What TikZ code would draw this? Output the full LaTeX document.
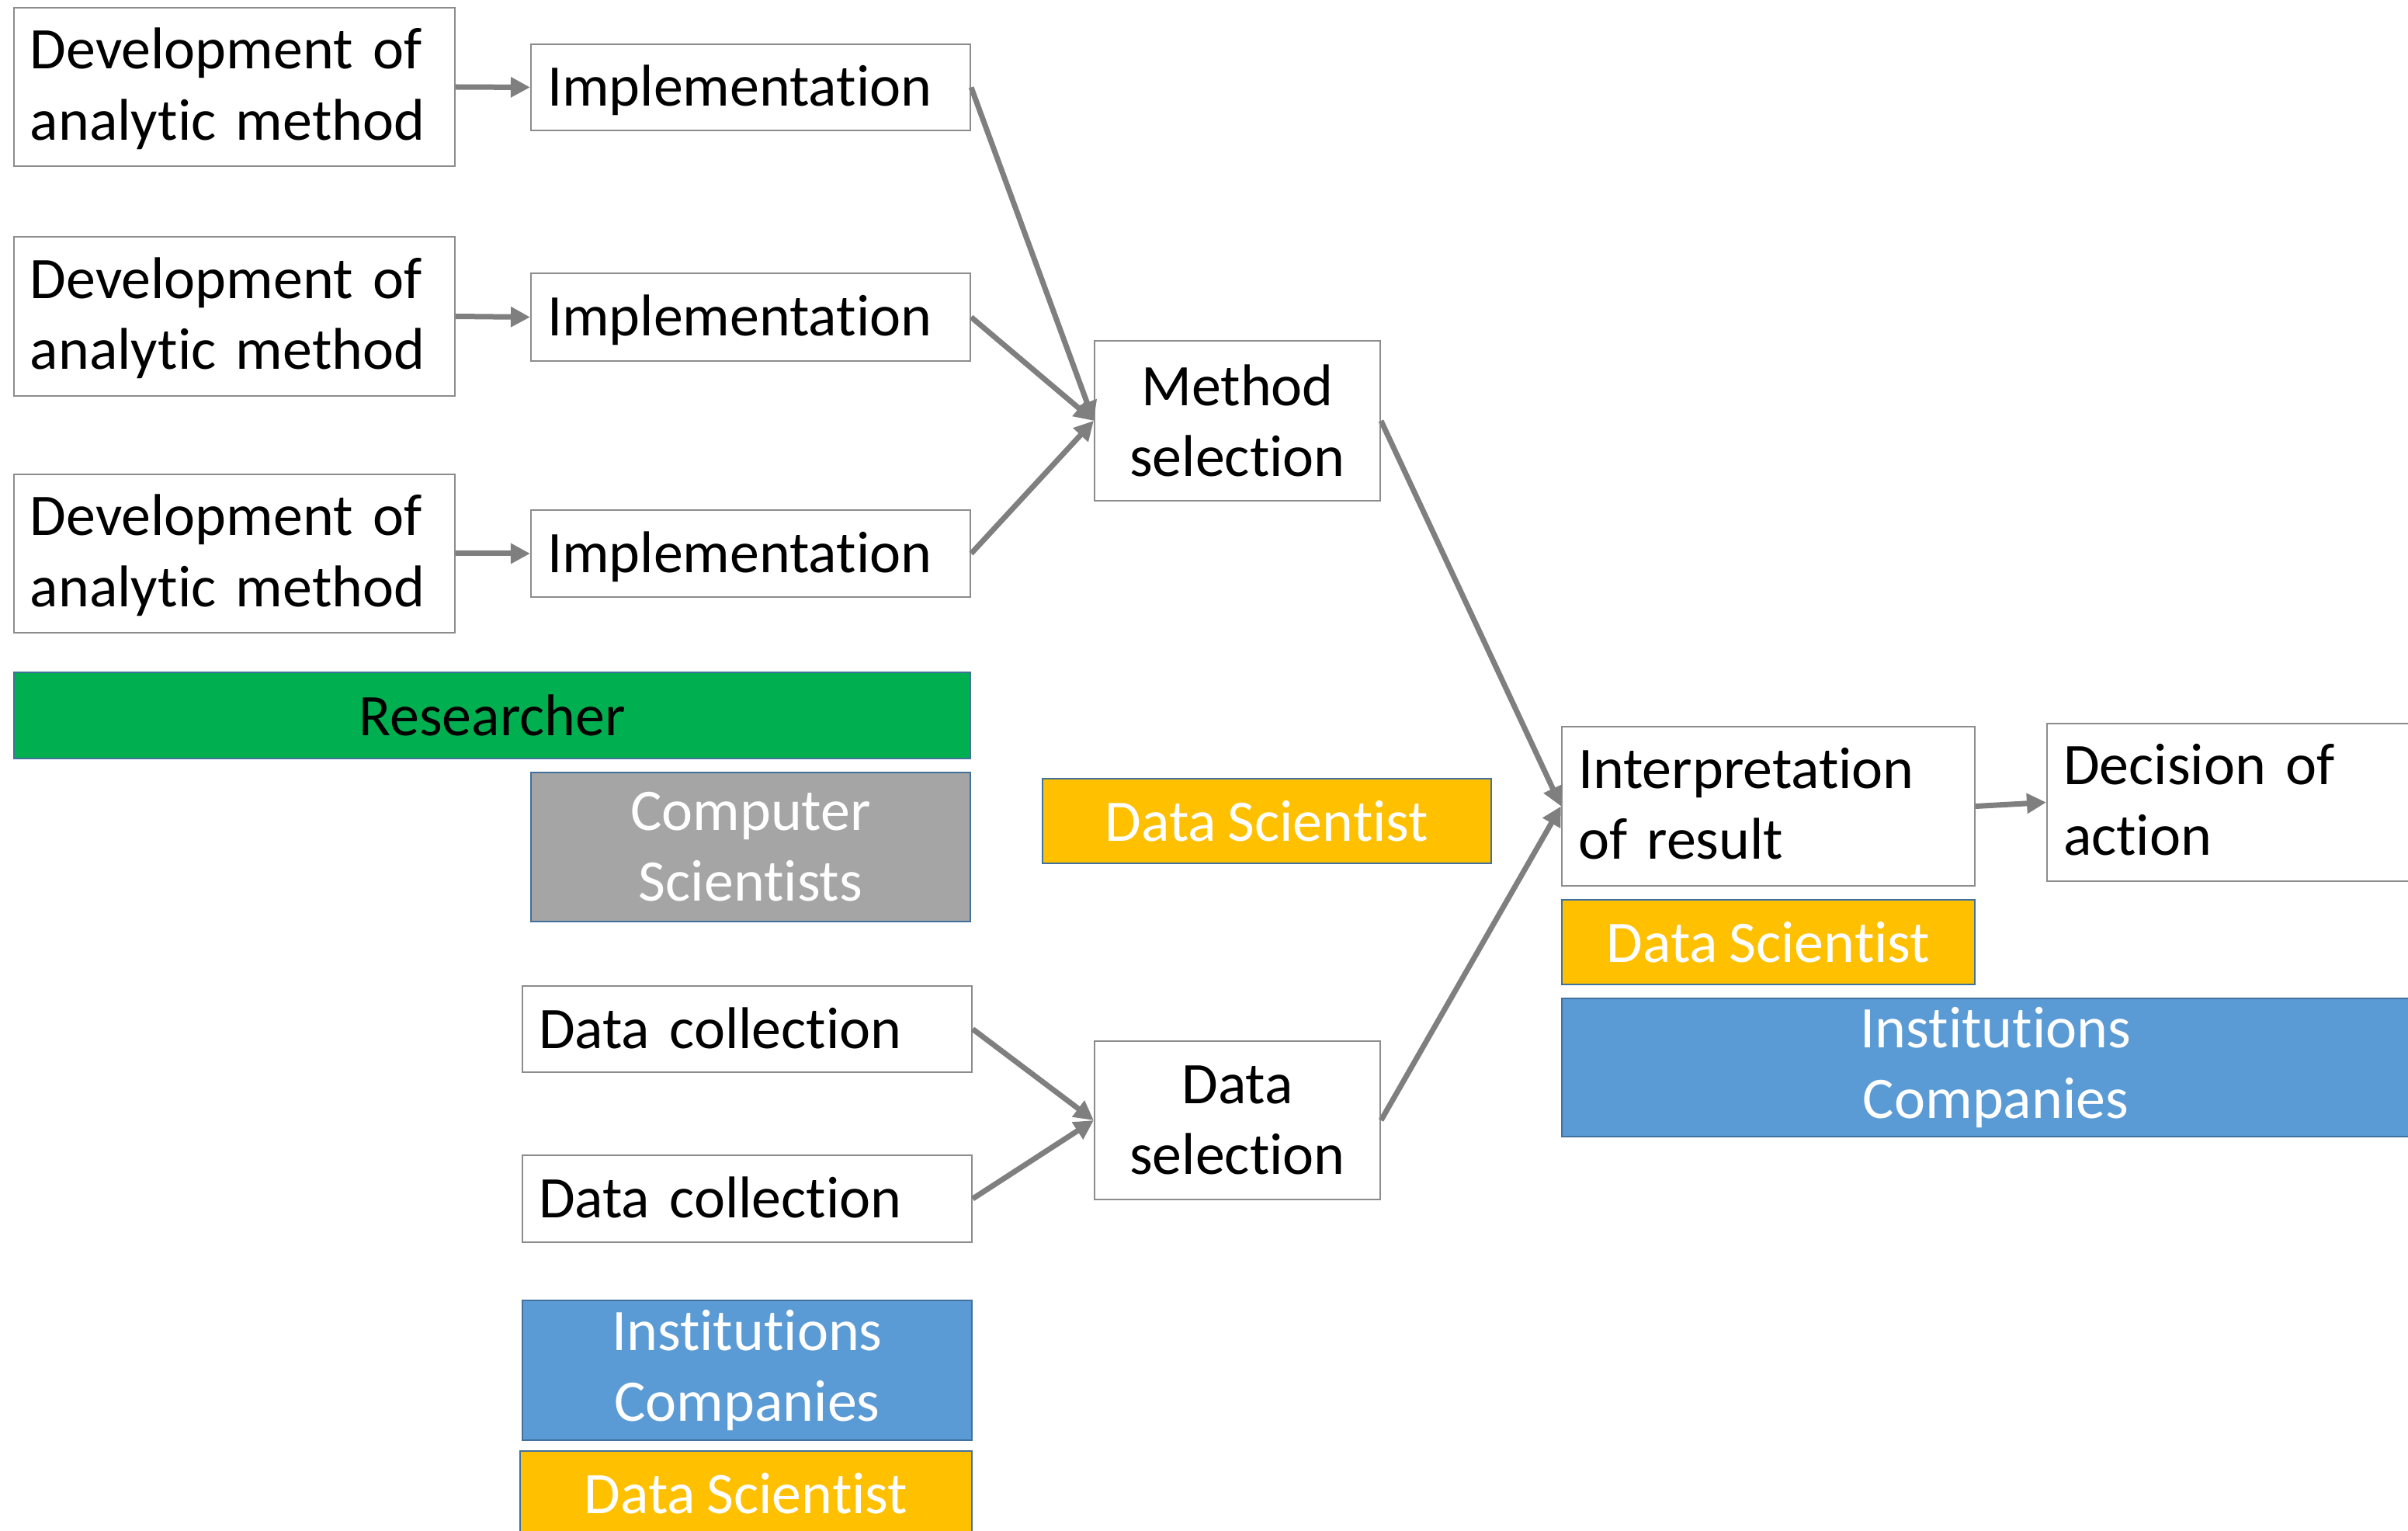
\documentclass[tikz,border=0pt]{standalone}
\usepackage{fontspec}
\setmainfont{Carlito}[Ligatures={NoCommon,NoContextual}, Contextuals=NoAlternate, WordSpace=0.85]
\usepackage{xcolor}
\usetikzlibrary{arrows.meta}
\definecolor{boxgray}{HTML}{8C8C8C}
\definecolor{arrowgray}{HTML}{7F7F7F}
\definecolor{roleline}{HTML}{41719C}
\definecolor{rgreen}{HTML}{00B050}
\definecolor{rgrey}{HTML}{A5A5A5}
\definecolor{rgold}{HTML}{FFC000}
\definecolor{rblue}{HTML}{5B9BD5}
\newcommand{\boxfont}{\fontsize{21.6}{25.9}\selectfont}

\begin{document}
\begin{tikzpicture}[
		taskbox/.style={draw=boxgray, line width=0.6pt, fill=white, inner xsep=0.21cm, inner ysep=0pt, font=\boxfont},
		oneline/.style={taskbox, align=left, text height=0.64cm, text depth=0.15cm},
		twoline/.style={taskbox, align=left, text height=0.6cm, text depth=1.06cm},
		rolebox/.style={draw=roleline, line width=0.8pt, inner sep=0pt, text=white, align=center, font=\boxfont},
		flow/.style={-{Triangle[length=2.5mm, width=2.5mm]}, draw=arrowgray, line width=0.7mm}
	]
		\useasboundingbox (0,0) rectangle (31.02,-19.72);
		\clip (0,0) rectangle (31.02,-19.72);

		% researcher part
		\node[twoline, text width=5.26cm, minimum height=2.04cm] (dev1) at (3.02,-1.12) {Development of\\analytic method};
		\node[twoline, text width=5.26cm, minimum height=2.05cm] (dev2) at (3.02,-4.075) {Development of\\analytic method};
		\node[twoline, text width=5.26cm, minimum height=2.04cm] (dev3) at (3.02,-7.13) {Development of\\analytic method};

		\node[oneline, text width=5.24cm, minimum height=1.11cm] (impl1) at (9.67,-1.125) {Implementation};
		\node[oneline, text width=5.24cm, minimum height=1.13cm] (impl2) at (9.67,-4.085) {Implementation};
		\node[oneline, text width=5.24cm, minimum height=1.12cm] (impl3) at (9.67,-7.13) {Implementation};

		\node[rolebox, fill=rgreen, text=black, minimum width=12.32cm, minimum height=1.11cm] (researcher) at (6.34,-9.215) {Researcher};
		\node[rolebox, fill=rgrey, minimum width=5.66cm, minimum height=1.92cm] (compsci) at (9.67,-10.91) {Computer\\Scientists};

		% data part
		\node[oneline, text width=5.37cm, minimum height=1.11cm] (coll1) at (9.625,-13.255) {Data collection};
		\node[oneline, text width=5.37cm, minimum height=1.12cm] (coll2) at (9.625,-15.44) {Data collection};

		\node[rolebox, fill=rblue, minimum width=5.79cm, minimum height=1.80cm] (inst1) at (9.625,-17.65) {Institutions\\Companies};
		\node[rolebox, fill=rgold, minimum width=5.82cm, minimum height=1.10cm] (ds3) at (9.61,-19.24) {Data Scientist};

		% selection
		\node[taskbox, align=center, minimum width=3.68cm, minimum height=2.06cm] (msel) at (15.94,-5.42) {Method\\selection};
		\node[taskbox, align=center, minimum width=3.68cm, minimum height=2.04cm] (dsel) at (15.94,-14.43) {Data\\selection};
		\node[rolebox, fill=rgold, minimum width=5.78cm, minimum height=1.09cm] (ds1) at (16.32,-10.575) {Data Scientist};

		% result
		\node[twoline, text width=4.90cm, minimum height=2.05cm] (interp) at (22.78,-10.385) {Interpretation\\of result};
		\node[twoline, text width=4.90cm, minimum height=2.03cm] (decision) at (29.03,-10.335) {Decision of\\action};
		\node[rolebox, fill=rgold, minimum width=5.32cm, minimum height=1.09cm] (ds2) at (22.78,-12.135) {Data Scientist};
		\node[rolebox, fill=rblue, minimum width=11.18cm, minimum height=1.78cm] (inst2) at (25.71,-13.75) {Institutions\\Companies};

		\draw[flow] (dev1.east) -- (impl1.west);
		\draw[flow] (dev2.east) -- (impl2.west);
		\draw[flow] (dev3.east) -- (impl3.west);

		\draw[flow] (impl1.east) -- (msel.west);
		\draw[flow] (impl2.east) -- (msel.west);
		\draw[flow] (impl3.east) -- (msel.west);

		\draw[flow] (coll1.east) -- (dsel.west);
		\draw[flow] (coll2.east) -- (dsel.west);

		\draw[flow] (msel.east) -- (interp.west);
		\draw[flow] (dsel.east) -- (interp.west);
		\draw[flow] (interp.east) -- (decision.west);
	\end{tikzpicture}
\end{document}
